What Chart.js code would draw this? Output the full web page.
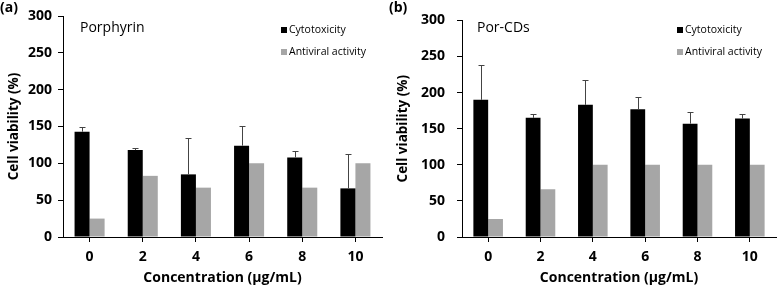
<!DOCTYPE html>
<html lang="en">
<head>
    <meta charset="UTF-8">
    <title>Cell viability - Porphyrin vs Por-CDs</title>
    <script src="https://cdn.jsdelivr.net/npm/chart.js"></script>
    <style>
        body {
            margin: 0;
            background: #fff;
            font-family: "Open Sans", sans-serif;
        }
        .panel {
            position: absolute;
            top: 0;
            width: 389px;
            height: 289px;
        }
        #panelA { left: 0; }
        #panelB { left: 389px; }
    </style>
</head>
<body>
    <div class="panel" id="panelA"><canvas id="chartA"></canvas></div>
    <div class="panel" id="panelB"><canvas id="chartB"></canvas></div>

    <script>
        // Values
        const concentrations = ['0', '2', '4', '6', '8', '10'];
        const yTicks = [0, 50, 100, 150, 200, 250, 300];

        const porCyto = [143, 118, 85, 124, 108, 66];
        const porCytoErr = [7, 3, 49, 27, 9, 47];
        const porAnti = [25, 83, 67, 100, 67, 100];

        const cdCyto = [190, 165, 183, 177, 157, 164];
        const cdCytoErr = [48, 5, 35, 17, 16, 6];
        const cdAnti = [25, 66, 100, 100, 100, 100];

        const legendLabels = ['Cytotoxicity', 'Antiviral activity'];
        const BLACK = '#000000';
        const GREY = '#a6a6a6';
        const FONT = '"Open Sans", sans-serif';

        // up-only error bars on the first dataset, plus panel letter, title and legend
        const extrasPlugin = {
            id: 'extras',
            afterDatasetsDraw(chart, args, opts) {
                const ctx = chart.ctx;
                const y = chart.scales.y;
                const meta = chart.getDatasetMeta(0);
                ctx.save();
                ctx.strokeStyle = '#444';
                ctx.lineWidth = 1;
                meta.data.forEach((bar, i) => {
                    const top = Math.round(y.getPixelForValue(opts.values[i] + opts.errors[i]));
                    const x = Math.round(bar.x) + 0.5;
                    ctx.beginPath();
                    ctx.moveTo(x, bar.y);
                    ctx.lineTo(x, top + 0.5);
                    ctx.moveTo(x - 3, top + 0.5);
                    ctx.lineTo(x + 3, top + 0.5);
                    ctx.stroke();
                });
                ctx.restore();
            },
            afterDraw(chart, args, opts) {
                const ctx = chart.ctx;
                const area = chart.chartArea;
                ctx.save();
                ctx.textBaseline = 'middle';
                ctx.textAlign = 'left';

                ctx.fillStyle = '#000';
                ctx.font = 'bold 14px ' + FONT;
                ctx.fillText(opts.letter, 0, 8);

                ctx.font = '14px ' + FONT;
                ctx.fillText(opts.title, area.left + opts.titleDx, 28);

                ctx.font = '10.5px ' + FONT;
                const lx = area.right - opts.legendDx;
                [BLACK, GREY].forEach((c, i) => {
                    const ly = 30 + i * 22;
                    ctx.fillStyle = c;
                    ctx.fillRect(lx, ly - 3, 6, 6);
                    ctx.fillStyle = '#000';
                    ctx.fillText(legendLabels[i], lx + 8, ly);
                });
                ctx.restore();
            }
        };

        function makeChart(id, cyto, err, anti, cfg) {
            return new Chart(document.getElementById(id), {
                type: 'bar',
                data: {
                    labels: concentrations,
                    datasets: [
                        { label: legendLabels[0], data: cyto, backgroundColor: BLACK },
                        { label: legendLabels[1], data: anti, backgroundColor: GREY }
                    ]
                },
                options: {
                    responsive: true,
                    maintainAspectRatio: false,
                    animation: false,
                    categoryPercentage: 0.565,
                    barPercentage: 1.0,
                    layout: { padding: { left: 0, right: cfg.padRight, top: 16, bottom: 0 } },
                    scales: {
                        x: {
                            grid: {
                                offset: false,
                                drawOnChartArea: false,
                                drawTicks: true,
                                tickLength: 5,
                                color: '#000'
                            },
                            border: { color: '#000', width: 1 },
                            ticks: {
                                color: '#000',
                                padding: 7,
                                font: { family: FONT, size: 14, weight: 'bold' }
                            },
                            title: {
                                display: true,
                                text: 'Concentration (µg/mL)',
                                color: '#000',
                                padding: { top: 0, bottom: 3 },
                                font: { family: FONT, size: 14, weight: 'bold' }
                            },
                            afterFit(scale) { scale.height = 52; }
                        },
                        y: {
                            min: 0,
                            max: 300,
                            afterBuildTicks(scale) { scale.ticks = yTicks.map(v => ({ value: v })); },
                            grid: {
                                drawOnChartArea: false,
                                drawTicks: true,
                                tickLength: 5,
                                color: '#000'
                            },
                            border: { color: '#000', width: 1 },
                            ticks: {
                                color: '#000',
                                padding: cfg.tickPad,
                                font: { family: FONT, size: 14, weight: 'bold' }
                            },
                            title: {
                                display: true,
                                text: 'Cell viability (%)',
                                color: '#000',
                                padding: { top: 6, bottom: 0 },
                                font: { family: FONT, size: 13.5, weight: 'bold' }
                            },
                            afterFit(scale) { scale.width = cfg.yWidth; }
                        }
                    },
                    plugins: {
                        legend: { display: false },
                        tooltip: { enabled: false },
                        extras: {
                            values: cyto,
                            errors: err,
                            letter: cfg.letter,
                            title: cfg.title,
                            titleDx: cfg.titleDx,
                            legendDx: cfg.legendDx
                        }
                    }
                },
                plugins: [extrasPlugin]
            });
        }

        makeChart('chartA', porCyto, porCytoErr, porAnti,
            { letter: '(a)', title: 'Porphyrin', titleDx: 17, legendDx: 101, yWidth: 63, tickPad: 6, padRight: 7 });
        makeChart('chartB', cdCyto, cdCytoErr, cdAnti,
            { letter: '(b)', title: 'Por-CDs', titleDx: 15, legendDx: 99, yWidth: 73, tickPad: 12, padRight: 2 });
    </script>
</body>
</html>
